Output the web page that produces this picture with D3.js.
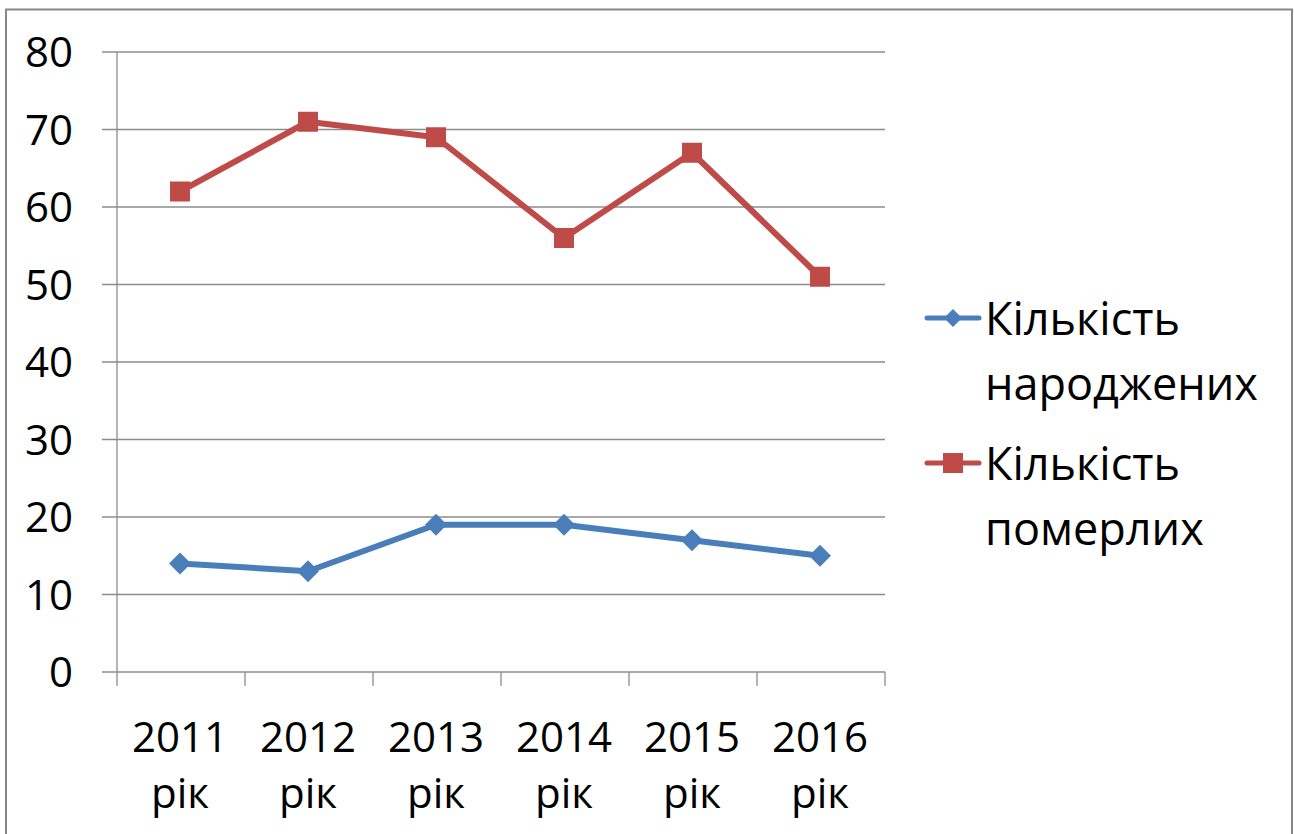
<!DOCTYPE html>
<html>
<head>
<meta charset="utf-8">
<script src="https://cdn.jsdelivr.net/npm/d3@7"></script>
<style>
body { margin: 0; background: white; }
text { font-family: "Open Sans", sans-serif; fill: black; }
</style>
</head>
<body>
<svg width="1294" height="834"></svg>
<script>
var years = ["2011", "2012", "2013", "2014", "2015", "2016"];
var yearSuffix = "рік";
var born = [14, 13, 19, 19, 17, 15];
var died = [62, 71, 69, 56, 67, 51];
var seriesNames = [["Кількість", "народжених"], ["Кількість", "померлих"]];
var yTicks = [0, 10, 20, 30, 40, 50, 60, 70, 80];

var svg = d3.select("svg");

// outer frame
svg.append("rect")
  .attr("x", 6).attr("y", 9.5)
  .attr("width", 1286).attr("height", 840)
  .attr("fill", "none")
  .attr("stroke", "#878787")
  .attr("stroke-width", 2);

var x = d3.scaleBand().domain(years).range([117, 885]);
var y = d3.scaleLinear().domain([0, 80]).range([672, 52]);

// gridlines
svg.append("g")
  .selectAll("line").data(yTicks).enter().append("line")
  .attr("x1", 102).attr("x2", 885)
  .attr("y1", function(d){ return y(d); })
  .attr("y2", function(d){ return y(d); })
  .attr("stroke", "#8c8c8c").attr("stroke-width", 1.3);

// y axis line
svg.append("line")
  .attr("x1", 117).attr("x2", 117)
  .attr("y1", y(80)).attr("y2", 686)
  .attr("stroke", "#8c8c8c").attr("stroke-width", 1.3);

// x tick marks at category edges
var edges = years.map(function(d){ return x(d) + x.bandwidth(); });
svg.append("g")
  .selectAll("line").data(edges).enter().append("line")
  .attr("x1", function(d){ return d; }).attr("x2", function(d){ return d; })
  .attr("y1", y(0)).attr("y2", 686)
  .attr("stroke", "#8c8c8c").attr("stroke-width", 1.3);

// y labels
svg.append("g")
  .selectAll("text").data(yTicks).enter().append("text")
  .attr("x", 73)
  .attr("y", function(d){ return y(d) + 15; })
  .attr("text-anchor", "end")
  .style("font-size", "42px")
  .text(function(d){ return d; });

// x labels
var xl = svg.append("g").selectAll("text").data(years).enter().append("text")
  .attr("text-anchor", "middle")
  .style("font-size", "42px");
xl.append("tspan")
  .attr("x", function(d){ return x(d) + x.bandwidth() / 2 - 1; })
  .attr("y", 752)
  .text(function(d){ return d; });
xl.append("tspan")
  .attr("x", function(d){ return x(d) + x.bandwidth() / 2 - 1; })
  .attr("y", 808)
  .text(yearSuffix);

var cx = function(d, i){ return x(years[i]) + x.bandwidth() / 2 - 1; };
var line = d3.line().x(cx).y(function(d){ return y(d); });

var blue = "#4a7ebb", red = "#be4b48";
var diamond = "M0,-11L11,0L0,11L-11,0Z";

svg.append("path").datum(born)
  .attr("d", line).attr("fill", "none")
  .attr("stroke", blue).attr("stroke-width", 6).attr("stroke-linejoin", "round");
svg.append("g").selectAll("path").data(born).enter().append("path")
  .attr("d", diamond)
  .attr("transform", function(d, i){ return "translate(" + cx(d, i) + "," + y(d) + ")"; })
  .attr("fill", blue);

svg.append("path").datum(died)
  .attr("d", line).attr("fill", "none")
  .attr("stroke", red).attr("stroke-width", 6).attr("stroke-linejoin", "round");
svg.append("g").selectAll("rect").data(died).enter().append("rect")
  .attr("x", function(d, i){ return cx(d, i) - 10; })
  .attr("y", function(d){ return y(d) - 10; })
  .attr("width", 20).attr("height", 20)
  .attr("fill", red);

// legend
var legendY = [318, 463];
var colors = [blue, red];
seriesNames.forEach(function(name, i){
  var ly = legendY[i];
  svg.append("line")
    .attr("x1", 927).attr("x2", 979)
    .attr("y1", ly).attr("y2", ly)
    .attr("stroke", colors[i]).attr("stroke-width", 5).attr("stroke-linecap", "round");
  if (i === 0) {
    svg.append("path")
      .attr("d", "M0,-9L9,0L0,9L-9,0Z")
      .attr("transform", "translate(953," + ly + ")")
      .attr("fill", colors[i]);
  } else {
    svg.append("rect")
      .attr("x", 943).attr("y", ly - 10)
      .attr("width", 20).attr("height", 20)
      .attr("fill", colors[i]);
  }
  var t = svg.append("text").style("font-size", "45px");
  t.append("tspan").attr("x", 985).attr("y", ly + 17).text(name[0]);
  t.append("tspan").attr("x", 985).attr("y", ly + 82).text(name[1]);
});
</script>
</body>
</html>
